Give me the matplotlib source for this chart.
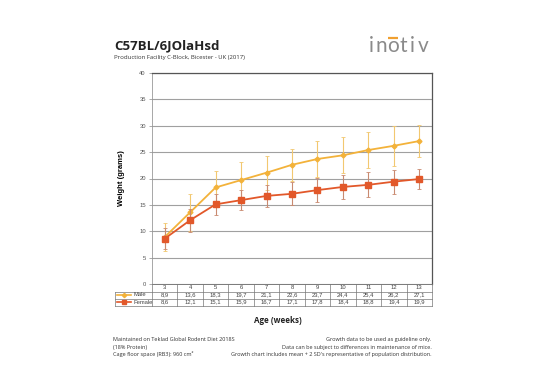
import matplotlib
matplotlib.use("Agg")
import matplotlib.pyplot as plt
import matplotlib.transforms as mtransforms
from matplotlib.lines import Line2D
import numpy as np

weeks = [3, 4, 5, 6, 7, 8, 9, 10, 11, 12, 13]
male = [8.9, 13.6, 18.3, 19.7, 21.1, 22.6, 23.7, 24.4, 25.4, 26.2, 27.1]
female = [8.6, 12.1, 15.1, 15.9, 16.7, 17.1, 17.8, 18.4, 18.8, 19.4, 19.9]
male_err = [2.7, 3.5, 3.2, 3.5, 3.2, 3.0, 3.4, 3.4, 3.5, 3.8, 3.1]
female_err = [2.0, 2.2, 2.0, 1.9, 2.1, 2.2, 2.25, 2.25, 2.4, 2.25, 1.9]
male_labels = ["8,9", "13,6", "18,3", "19,7", "21,1", "22,6", "23,7", "24,4", "25,4", "26,2", "27,1"]
female_labels = ["8,6", "12,1", "15,1", "15,9", "16,7", "17,1", "17,8", "18,4", "18,8", "19,4", "19,9"]
yticks = [0, 5, 10, 15, 20, 25, 30, 35, 40]
logo_letters = ["i", "n", "o", "t", "i", "v"]

MALE_C = "#F3B23A"
FEMALE_C = "#E2582A"
MALE_E = "#F2C870"
FEMALE_E = "#C98A70"

W, H = 534, 377
fig = plt.figure(figsize=(W / 100, H / 100), dpi=100)
fig.patch.set_facecolor("white")

def fx(px):
    return px / W

def fy(py):
    return 1 - py / H

left, right, top, bottom = 152, 432, 73, 284
ax = fig.add_axes([fx(left), fy(bottom), fx(right) - fx(left), fy(top) - fy(bottom)])

x = np.arange(len(weeks))
ax.errorbar(x, male, yerr=male_err, color=MALE_C, lw=1.3, marker="D", ms=2.5,
            ecolor=MALE_E, elinewidth=0.8, capsize=1.5, capthick=0.6, zorder=3)
ax.errorbar(x, female, yerr=female_err, color=FEMALE_C, lw=1.3, marker="s", ms=4.3,
            ecolor=FEMALE_E, elinewidth=0.8, capsize=1.5, capthick=0.6, zorder=4)

ax.set_xlim(-0.5, len(weeks) - 0.5)
ax.set_ylim(0, 40)
ax.set_yticks(yticks)
ax.set_yticklabels([str(v) for v in yticks], fontsize=4.2, color="#555555",
                   family="Liberation Sans")
ax.tick_params(axis="y", length=2.5, width=0.5, color="#888888", pad=2)
ax.set_xticks([])
ax.grid(axis="y", color="#a0a0a0", lw=0.8)
ax.set_axisbelow(True)
for s in ["top", "right"]:
    ax.spines[s].set_color("#555555")
    ax.spines[s].set_linewidth(0.9)
ax.spines["left"].set_color("#999999")
ax.spines["left"].set_linewidth(0.6)
ax.spines["bottom"].set_color("#777777")
ax.spines["bottom"].set_linewidth(0.6)
ax.set_ylabel("Weight (grams)", fontsize=5.5, fontweight="bold", family="Liberation Sans",
              labelpad=10)

# table below the axes
trans = mtransforms.blended_transform_factory(ax.transData, fig.transFigure)
row_y = [284, 291.5, 298.5, 305.5]
lc = "#777777"
lw = 0.5
ax.add_line(Line2D([-0.5, len(weeks) - 0.5], [fy(row_y[0])] * 2, transform=trans, color=lc, lw=lw, clip_on=False))
tx_left = -0.5 - (left - 115) / ((right - left) / len(weeks))
for ry in row_y[1:]:
    ax.add_line(Line2D([tx_left, len(weeks) - 0.5], [fy(ry)] * 2, transform=trans, color=lc, lw=lw, clip_on=False))
for i in range(len(weeks) + 1):
    xv = i - 0.5
    ax.add_line(Line2D([xv, xv], [fy(row_y[0]), fy(row_y[3])], transform=trans, color=lc, lw=lw, clip_on=False))
ax.add_line(Line2D([tx_left, tx_left], [fy(row_y[1]), fy(row_y[3])], transform=trans, color=lc, lw=lw, clip_on=False))

tfont = dict(fontsize=4.2, color="#444444", family="Liberation Sans", ha="center", va="center")
for i, w in enumerate(weeks):
    ax.text(i, fy((row_y[0] + row_y[1]) / 2), str(w), transform=trans, **tfont)
    ax.text(i, fy((row_y[1] + row_y[2]) / 2), male_labels[i], transform=trans, **tfont)
    ax.text(i, fy((row_y[2] + row_y[3]) / 2), female_labels[i], transform=trans, **tfont)

def key(ry0, ry1, color, marker, ms, label):
    yc = fy((ry0 + ry1) / 2)
    fig.add_artist(Line2D([fx(117), fx(131)], [yc, yc], color=color, lw=1.2,
                          transform=fig.transFigure))
    fig.add_artist(Line2D([fx(124)], [yc], color=color, marker=marker, ms=ms,
                          transform=fig.transFigure))
    fig.text(fx(133), yc, label, fontsize=4.2, color="#444444", family="Liberation Sans",
             ha="left", va="center")

key(row_y[1], row_y[2], MALE_C, "D", 2.2, "Male")
key(row_y[2], row_y[3], FEMALE_C, "s", 3.2, "Female")

# titles
fig.text(fx(114), fy(49), "C57BL/6JOlaHsd", fontsize=9.5, fontweight="bold",
         family="Open Sans", color="#222222", ha="left", va="baseline")
fig.text(fx(114), fy(58.5), "Production Facility C-Block, Bicester - UK (2017)", fontsize=4.3,
         family="Open Sans", color="#333333", ha="left", va="baseline")

# logo (letter-spaced)
logo_cx = [371, 381.5, 393, 403.5, 412, 423]
for ch, cx in zip(logo_letters, logo_cx):
    fig.text(fx(cx), fy(52), ch, fontsize=15, family="Lato", color="#8a8a8a",
             ha="center", va="baseline")
fig.add_artist(Line2D([fx(388), fx(398)], [fy(38), fy(38)], color="#F0A030", lw=1.6,
                      transform=fig.transFigure, solid_capstyle="butt"))

fig.text(fx(278), fy(323), "Age (weeks)", fontsize=5.8, fontweight="bold", family="Open Sans",
         color="#222222", ha="center", va="baseline")

nfont = dict(fontsize=4.0, family="Open Sans", color="#333333", va="baseline")
fig.text(fx(113), fy(341), "Maintained on Teklad Global Rodent Diet 2018S", ha="left", **nfont)
fig.text(fx(113), fy(348.5), "(18% Protein)", ha="left", **nfont)
fig.text(fx(113), fy(356), "Cage floor space (RB3): 960 cm\u00b2", ha="left", **nfont)
fig.text(fx(432), fy(341), "Growth data to be used as guideline only.", ha="right", **nfont)
fig.text(fx(432), fy(348.5), "Data can be subject to differences in maintenance of mice.", ha="right", **nfont)
fig.text(fx(432), fy(356), "Growth chart includes mean + 2 SD's representative of population distribution.", ha="right", **nfont)

fig.savefig("out.png", dpi=100, facecolor="white")
